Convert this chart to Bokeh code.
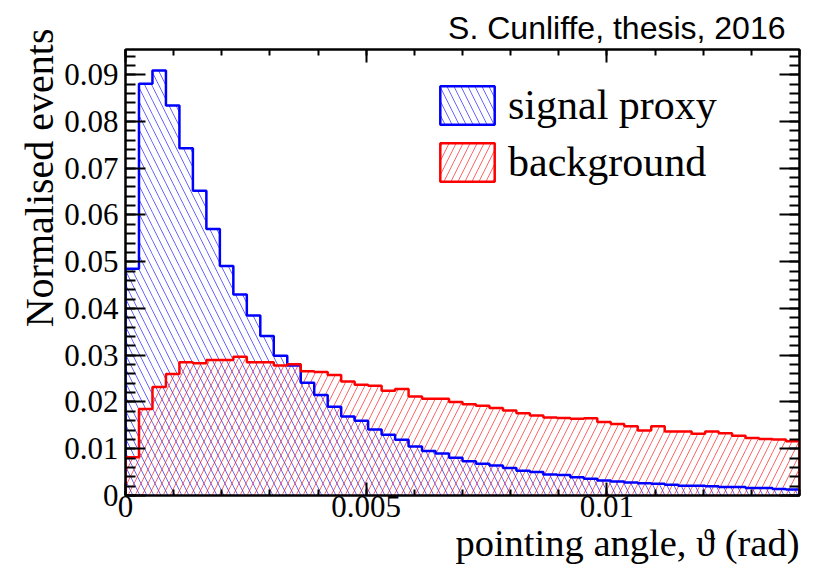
import numpy as np
from bokeh.plotting import figure
from bokeh.models import (Range1d, LinearAxis, FixedTicker, Legend, LegendItem,
                          CustomJSTickFormatter, Title)
from bokeh.embed import file_html
from bokeh.resources import INLINE

# ---------------- data ----------------
X_MIN, X_MAX = 0.0, 0.014
Y_MAX = 0.0954
N_BINS = 50

SIGNAL = [0.0485, 0.0881, 0.0909, 0.0834, 0.0743, 0.0652, 0.0570, 0.0491, 0.0430, 0.0385,
          0.0341, 0.0299, 0.0278, 0.0241, 0.0215, 0.0190, 0.0169, 0.0160, 0.0141, 0.0130,
          0.0119, 0.0105, 0.0095, 0.0090, 0.0081, 0.0073, 0.0068, 0.0064, 0.0059, 0.0053,
          0.0050, 0.0045, 0.0044, 0.0039, 0.0036, 0.0032, 0.0030, 0.0028, 0.0026, 0.0025,
          0.0023, 0.0021, 0.0021, 0.0020, 0.0018, 0.0018, 0.0016, 0.0016, 0.0014, 0.0013]

BACKGROUND = [0.0082, 0.0185, 0.0232, 0.0260, 0.0285, 0.0283, 0.0290, 0.0290, 0.0297, 0.0285,
              0.0285, 0.0278, 0.0281, 0.0266, 0.0264, 0.0258, 0.0244, 0.0237, 0.0235, 0.0224,
              0.0228, 0.0212, 0.0207, 0.0207, 0.0200, 0.0195, 0.0192, 0.0187, 0.0182, 0.0176,
              0.0171, 0.0167, 0.0166, 0.0164, 0.0165, 0.0157, 0.0153, 0.0148, 0.0139, 0.0148,
              0.0137, 0.0137, 0.0132, 0.0137, 0.0133, 0.0128, 0.0123, 0.0121, 0.0120, 0.0116]

X_TICKS = [0.0, 0.005, 0.01]
X_TICK_LABELS = ["0", "0.005", "0.01"]
Y_TICKS = [0.0, 0.01, 0.02, 0.03, 0.04, 0.05, 0.06, 0.07, 0.08, 0.09]
Y_TICK_LABELS = ["0", "0.01", "0.02", "0.03", "0.04", "0.05", "0.06", "0.07", "0.08", "0.09"]

SERIES_LABELS = ["signal proxy", "background"]
X_TITLE = "pointing angle, \u03d1 (rad)"
Y_TITLE = "Normalised events"
CREDIT = "S. Cunliffe, thesis, 2016"

# ---------------- figure ----------------
edges = np.linspace(X_MIN, X_MAX, N_BINS + 1)

p = figure(width=815, height=576, x_range=Range1d(X_MIN, X_MAX), y_range=Range1d(0, Y_MAX),
           output_backend="svg", toolbar_location=None,
           x_axis_type=None, y_axis_type=None,
           min_border_left=125, min_border_right=16, min_border_top=49, min_border_bottom=81)
p.background_fill_color = "white"
p.border_fill_color = "white"
p.outline_line_color = "black"
p.outline_line_width = 2

SERIF = "Liberation Serif"

x_minor = list(np.round(np.arange(X_MIN, X_MAX + 1e-9, 0.001), 6))
y_minor = list(np.round(np.arange(0, Y_MAX, 0.002), 6))

def make_axis(kind, labels):
    ax = LinearAxis()
    if kind == "x":
        ax.ticker = FixedTicker(ticks=X_TICKS, minor_ticks=x_minor)
        ax.major_tick_in, ax.minor_tick_in = 13, 6
    else:
        ax.ticker = FixedTicker(ticks=Y_TICKS, minor_ticks=y_minor)
        ax.major_tick_in, ax.minor_tick_in = 20, 10
    ax.major_tick_out = 0
    ax.minor_tick_out = 0
    ax.axis_line_width = 2
    ax.major_tick_line_width = 2
    ax.minor_tick_line_width = 2
    if labels:
        if kind == "x":
            ax.major_label_overrides = dict(zip(X_TICKS, X_TICK_LABELS))
            ax.major_label_standoff = 0
        else:
            ax.major_label_overrides = dict(zip(Y_TICKS, Y_TICK_LABELS))
            ax.major_label_standoff = 7
        ax.major_label_text_font = SERIF
        ax.major_label_text_font_size = "31px"
        ax.major_label_text_color = "black"
    else:
        ax.formatter = CustomJSTickFormatter(code="return ''")
        ax.major_label_standoff = 0
        ax.major_label_text_font_size = "1px"
    return ax

p.add_layout(make_axis("x", True), "below")
p.add_layout(make_axis("y", True), "left")
p.add_layout(make_axis("x", False), "above")
p.add_layout(make_axis("y", False), "right")

def outline(vals):
    xs = np.repeat(edges, 2)
    ys = np.concatenate([[0.0], np.repeat(np.asarray(vals), 2), [0.0]])
    return xs, ys

styles = [
    dict(vals=SIGNAL, color="#0000ff", hatch="\\", label=SERIES_LABELS[0]),
    dict(vals=BACKGROUND, color="#ff0000", hatch="/", label=SERIES_LABELS[1]),
]
HATCH = dict(hatch_alpha=0.6, hatch_scale=14, hatch_weight=1)

items = []
for s in styles:
    p.quad(left=edges[:-1], right=edges[1:], bottom=0, top=s["vals"],
           fill_color=None, line_color=None,
           hatch_pattern=s["hatch"], hatch_color=s["color"], **HATCH)
for s in styles:
    xs, ys = outline(s["vals"])
    p.line(xs, ys, line_color=s["color"], line_width=2.5)
    proxy = p.quad(left=edges[:-1], right=edges[1:], bottom=0, top=s["vals"],
                   fill_color=None, line_color=s["color"], line_width=2.5,
                   hatch_pattern=s["hatch"], hatch_color=s["color"], visible=False, **HATCH)
    items.append(LegendItem(label=s["label"], renderers=[proxy]))

legend = Legend(items=items, location=(308, 309), glyph_width=68, glyph_height=48,
                label_text_font=SERIF, label_text_font_size="42px", label_standoff=7,
                label_text_color="black",
                spacing=9, padding=0, margin=0, border_line_alpha=0,
                background_fill_alpha=0, label_height=48, click_policy="none")
p.add_layout(legend)

p.add_layout(Title(text=Y_TITLE, align="right", offset=-21, standoff=0,
                   text_font=SERIF, text_font_size="40px", text_font_style="normal",
                   text_color="black"), "left")
p.add_layout(Title(text=X_TITLE, align="right", offset=0, standoff=0,
                   text_font=SERIF, text_font_size="38.5px", text_font_style="normal",
                   text_color="black"), "below")
p.add_layout(Title(text=CREDIT, align="right", offset=14, standoff=7,
                   text_font="Liberation Sans", text_font_size="32px",
                   text_font_style="normal", text_color="black"), "above")

open("out.html", "w").write(file_html(p, INLINE))
